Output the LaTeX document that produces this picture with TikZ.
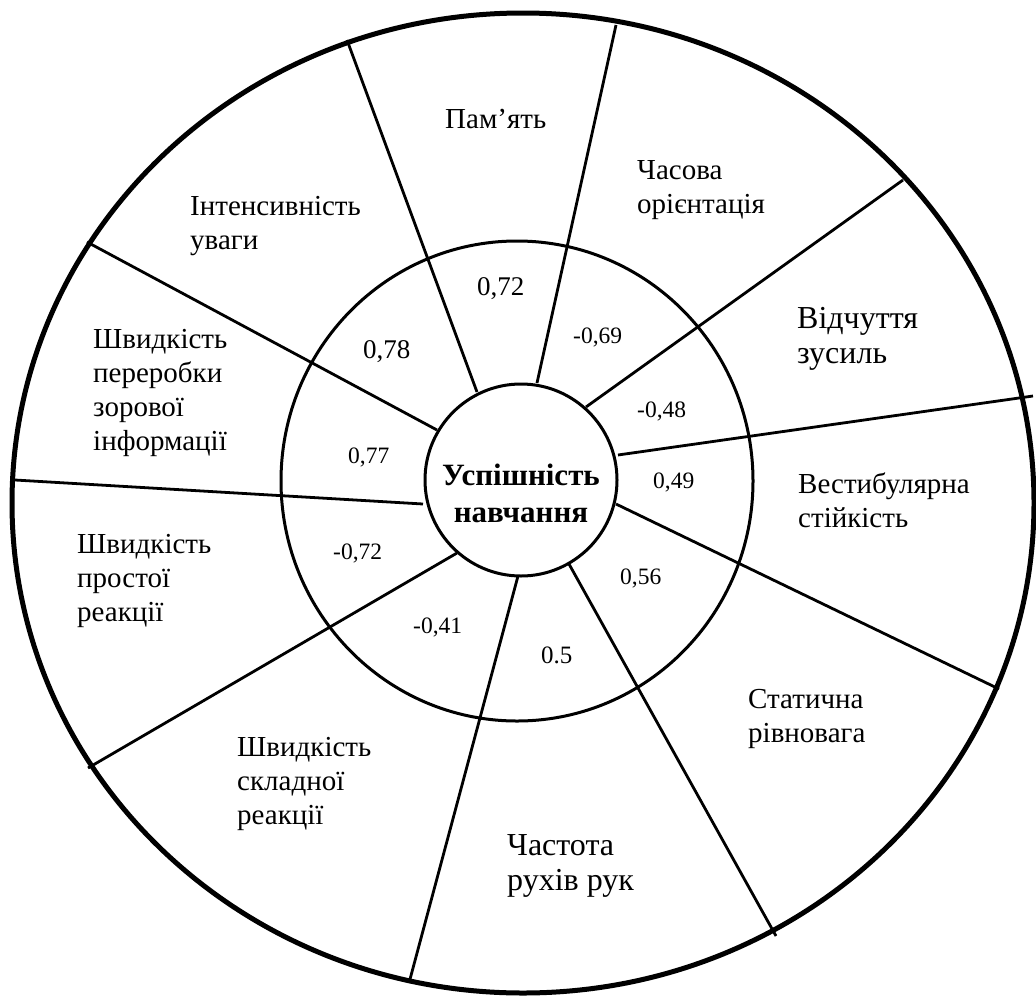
\documentclass[tikz,border=0pt]{standalone}
\usepackage{fontspec}
\setmainfont{Liberation Serif}
\begin{document}
\begin{tikzpicture}[x=1pt,y=-1pt,
  lbl/.style={anchor=base west, inner sep=0pt, align=left, font=\rmfamily\fontsize{29}{33.7}\selectfont},
  biglbl/.style={anchor=base west, inner sep=0pt, align=left, font=\rmfamily\fontsize{32}{35}\selectfont},
  num/.style={anchor=base west, inner sep=0pt, font=\rmfamily\fontsize{23.5}{26}\selectfont},
  bignum/.style={anchor=base west, inner sep=0pt, font=\rmfamily\fontsize{27}{30}\selectfont},
  spoke/.style={line width=2.8pt},
  ring/.style={line width=3pt},
  outer/.style={line width=5pt}]
\useasboundingbox (0,0) rectangle (1036,996);
% spoke end points
\coordinate (i1) at (477,392);  \coordinate (o1) at (347,40);
\coordinate (i2) at (537,383);  \coordinate (o2) at (616,25);
\coordinate (i3) at (586,407);  \coordinate (o3) at (903,180);
\coordinate (i4) at (618,455);  \coordinate (o4) at (1033,396);
\coordinate (i5) at (616,504);  \coordinate (o5) at (999,689);
\coordinate (i6) at (569,564);  \coordinate (o6) at (776,936);
\coordinate (i7) at (518,576);  \coordinate (o7) at (409,983);
\coordinate (i8) at (457,553);  \coordinate (o8) at (88,768);
\coordinate (i9) at (423,504);  \coordinate (o9) at (15,480);
\coordinate (i10) at (437,430); \coordinate (o10) at (87,242);
\foreach \k in {1,...,10} {\draw[spoke] (i\k) -- (o\k);}
% rings
\draw[outer] (523,503) ellipse [x radius=511, y radius=490];
\draw[ring] (517,481) ellipse [x radius=236, y radius=240];
\node[circle, draw, ring, fill=white, minimum size=192pt, inner sep=0pt] (c) at (521,480) {};
\node[anchor=base, align=center, inner sep=0pt, font=\rmfamily\bfseries\fontsize{31}{37}\selectfont] (ctext) at (521,522) {Успішність\\навчання};
% outer labels (anchored at the baseline of the last line)
\node[lbl] (t1) at (445,128) {Пам’ять};
\node[lbl] (t2) at (190,249) {Інтенсивність\\уваги};
\node[lbl] (t3) at (637,213) {Часова\\орієнтація};
\node[biglbl] (t4) at (797,363) {Відчуття\\зусиль};
\node[lbl] (t5) at (798,527) {Вестибулярна\\стійкість};
\node[lbl] (t6) at (748,742) {Статична\\рівновага};
\node[biglbl] (t7) at (507,890) {Частота\\рухів рук};
\node[lbl] (t8) at (237,824) {Швидкість\\складної\\реакції};
\node[lbl] (t9) at (77,621) {Швидкість\\простої\\реакції};
\node[lbl] (t10) at (93,450) {Швидкість\\переробки\\зорової\\інформації};
% correlation values
\node[bignum] (n1) at (363,358) {0,78};
\node[bignum] (n2) at (477,295) {0,72};
\node[num] (n3) at (573,343) {-0,69};
\node[num] (n4) at (637,417) {-0,48};
\node[num] (n5) at (653,488) {0,49};
\node[num] (n6) at (620,584) {0,56};
\node[num, font=\rmfamily\fontsize{25}{28}\selectfont] (n7) at (541,663) {0.5};
\node[num] (n8) at (413,633) {-0,41};
\node[num] (n9) at (333,559) {-0,72};
\node[num] (n10) at (348,463) {0,77};
\end{tikzpicture}
\end{document}
